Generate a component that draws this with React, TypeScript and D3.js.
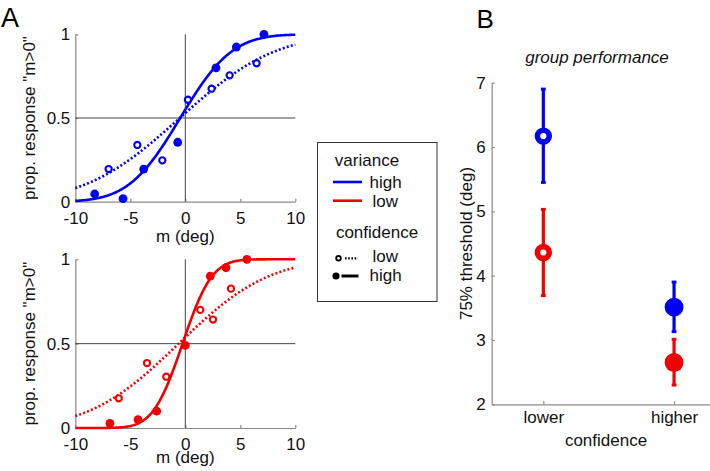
import React, { useEffect, useRef } from "react";
import * as d3 from "d3";

// ---------- data ----------
// Panel A, top (high variance, blue)
const topHighM = [-8.24, -5.66, -3.78, -0.69, 2.79, 4.64, 7.15];
const topHighP = [0.046, 0.018, 0.195, 0.355, 0.8, 0.924, 1.0];
const topLowM = [-6.97, -4.36, -2.09, 0.24, 2.39, 4.03, 6.48];
const topLowP = [0.195, 0.339, 0.247, 0.609, 0.675, 0.755, 0.827];
// Panel A, bottom (low variance, red)
const botHighM = [-6.85, -4.3, -2.6, 0, 2.27, 3.7, 5.6];
const botHighP = [0.028, 0.05, 0.1, 0.49, 0.9, 0.95, 1.0];
const botLowM = [-6.05, -3.48, -1.73, 1.36, 2.52, 4.15];
const botLowP = [0.176, 0.385, 0.304, 0.7, 0.643, 0.826];
// fitted cumulative-Gaussian parameters [mu, sigma]
const fitTopHigh = [-0.46, 3.69];
const fitTopLow = [-0.5, 6.8];
const fitBotHigh = [-0.25, 2.1];
const fitBotLow = [-0.6, 6.4];

const mTicks = [-10, -5, 0, 5, 10];
const pTicks = [0, 0.5, 1];

// Panel B
const conditions = ["lower", "higher"];
const highVarMean = [6.17, 3.51];
const highVarLo = [5.45, 3.13];
const highVarHi = [6.9, 3.9];
const lowVarMean = [4.36, 2.65];
const lowVarLo = [3.69, 2.3];
const lowVarHi = [5.03, 3.01];
const thrTicks = [2, 3, 4, 5, 6, 7];

const BLUE = "#0000f2";
const RED = "#f20000";
const FONT = "'Liberation Sans', Arial, sans-serif";
const AX = "#8a8a8a";

function erf(x: number) {
  const s = x < 0 ? -1 : 1;
  x = Math.abs(x);
  const t = 1 / (1 + 0.3275911 * x);
  const y =
    1 -
    ((((1.061405429 * t - 1.453152027) * t + 1.421413741) * t - 0.284496736) * t +
      0.254829592) *
      t *
      Math.exp(-x * x);
  return s * y;
}
const phi = (m: number, mu: number, sd: number) => 0.5 * (1 + erf((m - mu) / (sd * Math.SQRT2)));

const xA = d3.scaleLinear().domain([-10, 10]).range([75.3, 295.3]);
const yTop = d3.scaleLinear().domain([0, 1]).range([201.7, 34.3]);
const yBot = d3.scaleLinear().domain([0, 1]).range([428, 259.3]);
const xB = d3.scaleLinear().domain([0.605, 2.275]).range([491.7, 710]);
const yB = d3.scaleLinear().domain([2, 7]).range([404.3, 82.7]);

function styleAxis(g: d3.Selection<SVGGElement, unknown, null, undefined>) {
  g.attr("font-size", 17).attr("font-family", FONT);
  g.select(".domain").attr("stroke", AX).attr("stroke-width", 1.2);
  g.selectAll(".tick line").attr("stroke", AX).attr("stroke-width", 1.2);
  g.selectAll(".tick text").attr("fill", "#111");
}

function Axis({ make, transform }: { make: () => any; transform: string }) {
  const ref = useRef<SVGGElement>(null);
  useEffect(() => {
    const g = d3.select(ref.current as SVGGElement);
    g.call(make());
    styleAxis(g);
  }, []);
  return <g ref={ref} transform={transform} />;
}

function PsyPanel({
  y,
  color,
  hiM,
  hiP,
  loM,
  loP,
  fitHi,
  fitLo,
}: {
  y: d3.ScaleLinear<number, number>;
  color: string;
  hiM: number[];
  hiP: number[];
  loM: number[];
  loP: number[];
  fitHi: number[];
  fitLo: number[];
}) {
  const grid = d3.range(-10, 10.001, 0.1);
  const line = (fit: number[]) =>
    d3
      .line<number>()
      .x((m) => xA(m))
      .y((m) => y(phi(m, fit[0], fit[1])))(grid) as string;
  const [x0, x1] = xA.range();
  const [y0, y1] = y.range();
  return (
    <g>
      <Axis
        transform={`translate(0,${y0})`}
        make={() =>
          d3
            .axisBottom(xA)
            .tickValues(mTicks)
            .tickSize(-3)
            .tickSizeOuter(0)
            .tickPadding(10)
            .tickFormat((d) => String(d))
        }
      />
      <Axis
        transform={`translate(${x0},0)`}
        make={() =>
          d3
            .axisLeft(y)
            .tickValues(pTicks)
            .tickSize(-3)
            .tickSizeOuter(0)
            .tickPadding(5)
            .tickFormat((d) => String(d))
        }
      />
      <line x1={xA(0)} x2={xA(0)} y1={y0} y2={y1} stroke="#444" strokeWidth={1} />
      <line x1={x0} x2={x1} y1={y(0.5)} y2={y(0.5)} stroke="#444" strokeWidth={1} />
      <path d={line(fitLo)} fill="none" stroke={color} strokeWidth={2.6} strokeDasharray="2,2.2" />
      <path d={line(fitHi)} fill="none" stroke={color} strokeWidth={2.6} />
      {loM.map((m, i) => (
        <circle key={"l" + i} cx={xA(m)} cy={y(loP[i])} r={3.1} fill="#fff" stroke={color} strokeWidth={2.1} />
      ))}
      {hiM.map((m, i) => (
        <circle key={"h" + i} cx={xA(m)} cy={y(hiP[i])} r={4.4} fill={color} />
      ))}
      <text
        transform={`translate(35,${(y0 + y1) / 2}) rotate(-90)`}
        textAnchor="middle"
        fontSize={17}
        fontFamily={FONT}
        fill="#111"
      >
        prop. response "m&gt;0"
      </text>
    </g>
  );
}

function ErrSeries({
  mean,
  lo,
  hi,
  color,
}: {
  mean: number[];
  lo: number[];
  hi: number[];
  color: string;
}) {
  return (
    <g>
      {mean.map((v, i) => {
        const cx = xB(i + 1);
        const open = conditions[i] === "lower";
        return (
          <g key={i}>
            <line x1={cx} x2={cx} y1={yB(lo[i])} y2={yB(hi[i])} stroke={color} strokeWidth={3.2} />
            <rect x={cx - 2.4} y={yB(hi[i]) - 1.5} width={4.8} height={3} fill={color} />
            <rect x={cx - 2.4} y={yB(lo[i]) - 1.5} width={4.8} height={3} fill={color} />
            {open ? (
              <circle cx={cx} cy={yB(v)} r={5.9} fill="#fff" stroke={color} strokeWidth={5.6} />
            ) : (
              <circle cx={cx} cy={yB(v)} r={9.4} fill={color} />
            )}
          </g>
        );
      })}
    </g>
  );
}

export default function App() {
  const txt = { fontFamily: FONT, fontSize: 17, fill: "#111" } as const;
  return (
    <svg
      width={710}
      height={471}
      style={{ position: "absolute", left: 0, top: 0, background: "#fff" }}
    >
      <rect x={0} y={0} width={710} height={471} fill="#fff" />
      {/* Panel A */}
      <text x={1} y={26.7} fontFamily={FONT} fontSize={27} fill="#000">
        A
      </text>
      <PsyPanel
        y={yTop}
        color={BLUE}
        hiM={topHighM}
        hiP={topHighP}
        loM={topLowM}
        loP={topLowP}
        fitHi={fitTopHigh}
        fitLo={fitTopLow}
      />
      <text x={xA(0)} y={242} textAnchor="middle" {...txt}>
        m (deg)
      </text>
      <PsyPanel
        y={yBot}
        color={RED}
        hiM={botHighM}
        hiP={botHighP}
        loM={botLowM}
        loP={botLowP}
        fitHi={fitBotHigh}
        fitLo={fitBotLow}
      />
      <text x={xA(0)} y={462.5} textAnchor="middle" {...txt}>
        m (deg)
      </text>

      {/* Legend */}
      <g>
        <rect x={317.5} y={142.5} width={119.5} height={159} fill="#fff" stroke="#333" strokeWidth={1} />
        <text x={367} y={165.5} textAnchor="middle" {...txt}>
          variance
        </text>
        <line x1={333} x2={362} y1={182} y2={182} stroke={BLUE} strokeWidth={2.6} />
        <text x={369.5} y={187.5} {...txt}>
          high
        </text>
        <line x1={333} x2={362} y1={200.7} y2={200.7} stroke={RED} strokeWidth={2.6} />
        <text x={372.5} y={207} {...txt}>
          low
        </text>
        <text x={377} y={237.5} textAnchor="middle" {...txt}>
          confidence
        </text>
        <circle cx={338.5} cy={258.3} r={2.3} fill="#fff" stroke="#000" strokeWidth={1.8} />
        <line x1={345} x2={358} y1={258.3} y2={258.3} stroke="#000" strokeWidth={2.2} strokeDasharray="1.6,1.6" />
        <text x={372.5} y={262} {...txt}>
          low
        </text>
        <circle cx={336} cy={276} r={3.6} fill="#000" />
        <line x1={341.5} x2={358.5} y1={276} y2={276} stroke="#000" strokeWidth={3} />
        <text x={369.5} y={281} {...txt}>
          high
        </text>
      </g>

      {/* Panel B */}
      <text x={476.5} y={28} fontFamily={FONT} fontSize={26} fill="#000">
        B
      </text>
      <text x={597} y={63} textAnchor="middle" fontStyle="italic" {...txt}>
        group performance
      </text>
      <Axis
        transform={`translate(0,${yB(2)})`}
        make={() =>
          d3
            .axisBottom(xB)
            .tickValues([1, 2])
            .tickSize(-3)
            .tickSizeOuter(0)
            .tickPadding(7)
            .tickFormat((d) => conditions[(d as number) - 1])
        }
      />
      <Axis
        transform={`translate(${xB.range()[0]},0)`}
        make={() =>
          d3
            .axisLeft(yB)
            .tickValues(thrTicks)
            .tickSize(-3)
            .tickSizeOuter(0)
            .tickPadding(6)
            .tickFormat((d) => String(d))
        }
      />
      <ErrSeries mean={highVarMean} lo={highVarLo} hi={highVarHi} color={BLUE} />
      <ErrSeries mean={lowVarMean} lo={lowVarLo} hi={lowVarHi} color={RED} />
      <text
        transform={`translate(472,${(yB(2) + yB(7)) / 2}) rotate(-90)`}
        textAnchor="middle"
        {...txt}
      >
        75% threshold (deg)
      </text>
      <text x={606} y={445.7} textAnchor="middle" {...txt}>
        confidence
      </text>
    </svg>
  );
}
